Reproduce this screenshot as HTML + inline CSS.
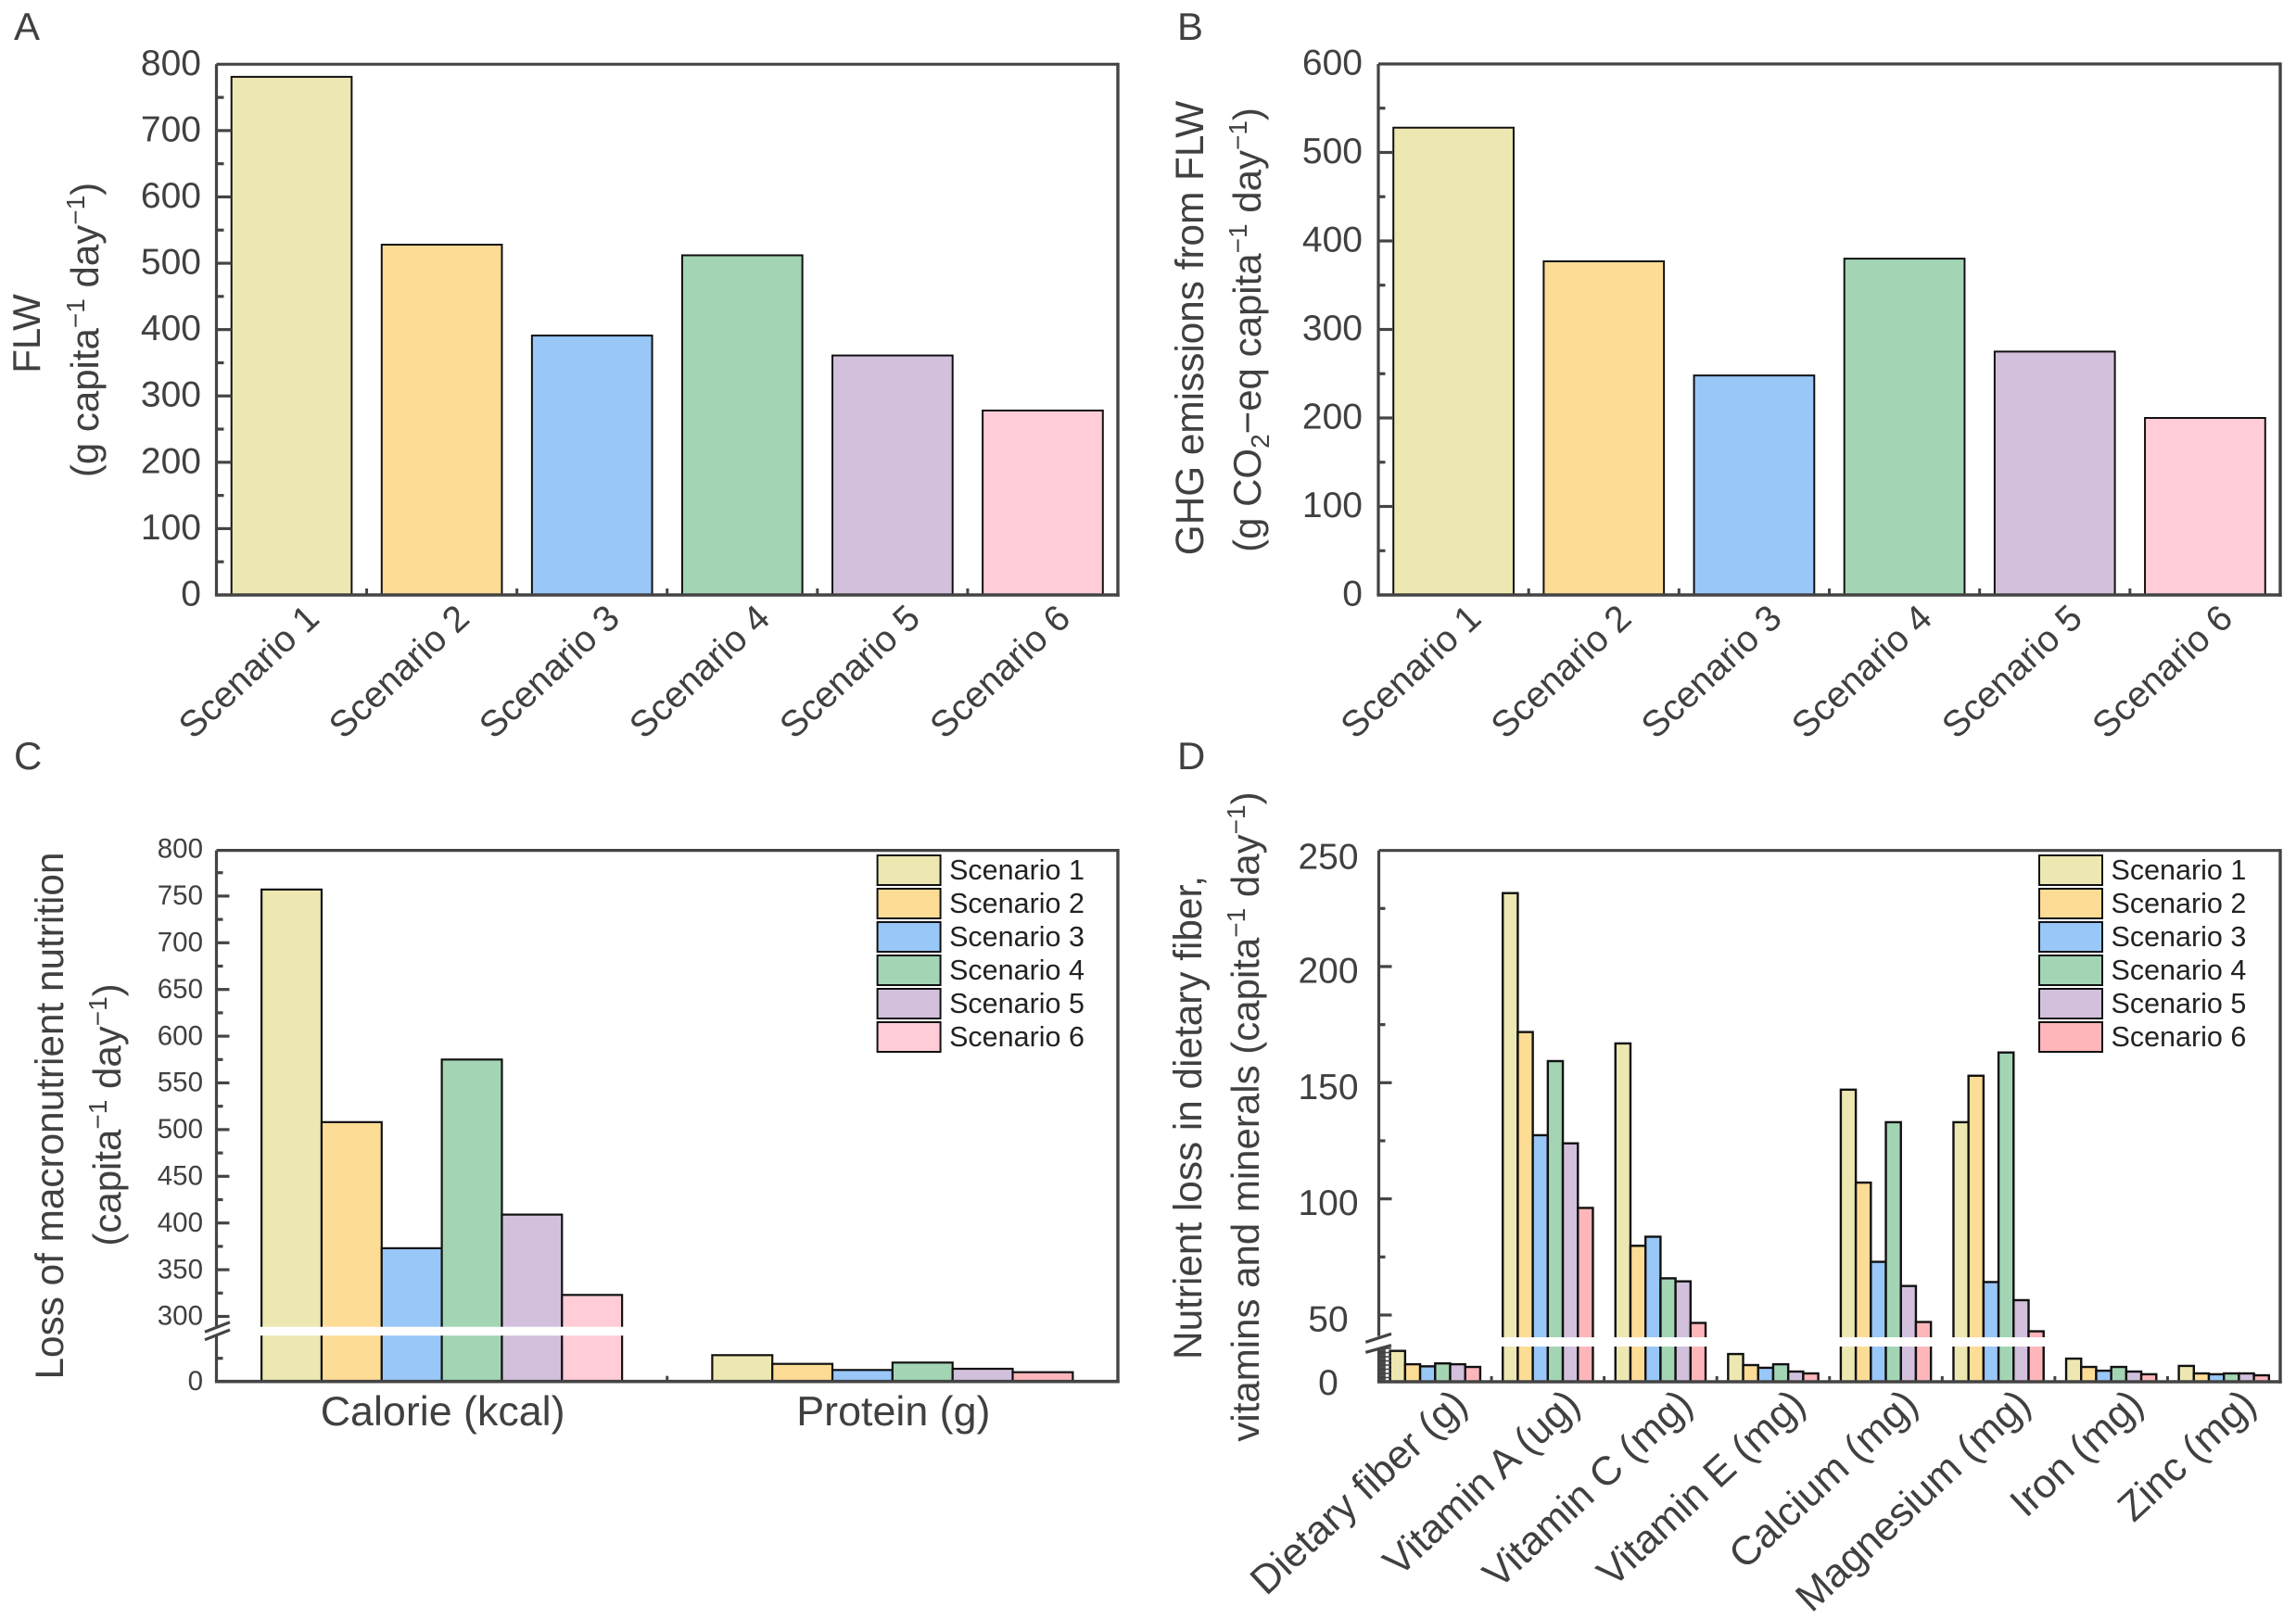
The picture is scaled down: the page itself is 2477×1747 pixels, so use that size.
<!DOCTYPE html>
<html lang="en">
<head>
<meta charset="utf-8">
<title>Food loss and waste scenarios</title>
<style>
html,body{margin:0;padding:0;background:#fff}
svg{display:block}
text{font-family:"Liberation Sans",Arial,sans-serif;fill:#404040}
</style>
</head>
<body>
<svg id="figure" xmlns="http://www.w3.org/2000/svg" width="2477" height="1747" viewBox="0 0 2477 1747">
  <rect x="0" y="0" width="2477" height="1747" fill="#fff"/>

  <text x="15" y="43" font-size="42">A</text>
  <text x="1270" y="43" font-size="42">B</text>
  <text x="15" y="830" font-size="42">C</text>
  <text x="1270" y="830" font-size="42">D</text>

  <g id="panel-a"></g>
  <g id="panel-b"></g>
  <g id="panel-c"></g>
  <g id="panel-d"></g>

  <text transform="translate(43 360) rotate(-90)" text-anchor="middle" font-size="42">FLW</text>
  <text transform="translate(106 356) rotate(-90)" text-anchor="middle" font-size="42">(g capita<tspan font-size="28" dy="-15">−1</tspan><tspan dy="15"> day</tspan><tspan font-size="28" dy="-15">−1</tspan><tspan dy="15">)</tspan></text>

  <text transform="translate(1298 354) rotate(-90)" text-anchor="middle" font-size="42.3">GHG emissions from FLW</text>
  <text transform="translate(1360 356) rotate(-90)" text-anchor="middle" font-size="42">(g CO<tspan font-size="28" dy="9">2</tspan><tspan dy="-9">−eq capita</tspan><tspan font-size="28" dy="-15">−1</tspan><tspan dy="15"> day</tspan><tspan font-size="28" dy="-15">−1</tspan><tspan dy="15">)</tspan></text>

  <text transform="translate(68 1204) rotate(-90)" text-anchor="middle" font-size="42.3">Loss of macronutrient nutrition</text>
  <text transform="translate(130 1203) rotate(-90)" text-anchor="middle" font-size="42">(capita<tspan font-size="28" dy="-15">−1</tspan><tspan dy="15"> day</tspan><tspan font-size="28" dy="-15">−1</tspan><tspan dy="15">)</tspan></text>

  <text transform="translate(1296 1206) rotate(-90)" text-anchor="middle" font-size="42.3">Nutrient loss in dietary fiber,</text>
  <text transform="translate(1358 1205) rotate(-90)" text-anchor="middle" font-size="42">vitamins and minerals (capita<tspan font-size="28" dy="-15">−1</tspan><tspan dy="15"> day</tspan><tspan font-size="28" dy="-15">−1</tspan><tspan dy="15">)</tspan></text>
</svg>

<script>
const scenarios = ['Scenario 1','Scenario 2','Scenario 3','Scenario 4','Scenario 5','Scenario 6'];
const flwValues = [781, 528, 391, 512, 361, 278];
const ghgValues = [528, 377, 248, 380, 275, 200];
const flwTicks = [0,100,200,300,400,500,600,700,800];
const ghgTicks = [0,100,200,300,400,500,600];

const macroCategories = ['Calorie (kcal)','Protein (g)'];
const calorieValues = [757, 508, 373, 575, 409, 323];
const proteinValues = [28.4, 19, 12.4, 20.4, 13.7, 10];
const macroUpperTicks = [300,350,400,450,500,550,600,650,700,750,800];
const macroLowerTicks = [0];

const nutrientCategories = ['Dietary fiber (g)','Vitamin A (ug)','Vitamin C (mg)','Vitamin E (mg)','Calcium (mg)','Magnesium (mg)','Iron (mg)','Zinc (mg)'];
const dietaryFiber = [14.8, 8.4, 7.4, 8.8, 8.4, 7.1];
const vitaminA = [231.6, 171.8, 127.4, 159.3, 123.9, 96.1];
const vitaminC = [166.9, 79.8, 83.7, 65.8, 64.5, 46.6];
const vitaminE = [13.3, 8, 6.7, 8.4, 4.9, 4];
const calcium = [147, 107, 72.9, 133, 62.5, 47];
const magnesium = [133, 153, 64.2, 163, 56.4, 43];
const iron = [11.1, 7.1, 5.3, 7.1, 4.9, 3.6];
const zinc = [7.6, 4, 3.6, 4, 4, 3.1];
const nutrientUpperTicks = [50,100,150,200,250];

const palette = ['#EDE7B1','#FDDC96','#98C7F8','#A3D5B5','#D2C0DD','#FFCCD8'];
const paletteSalmon = ['#EDE7B1','#FDDC96','#98C7F8','#A3D5B5','#D2C0DD','#FEB6BB'];

const NS = 'http://www.w3.org/2000/svg';
const AXIS = '#444444';
const INK = '#111111';

function mk(parent, tag, attrs, txt) {
  const el = document.createElementNS(NS, tag);
  for (const k in attrs) el.setAttribute(k, attrs[k]);
  if (txt !== undefined) el.textContent = txt;
  parent.appendChild(el);
  return el;
}

function line(parent, x1, y1, x2, y2, w, name) {
  const el = mk(parent, 'line', {x1, y1, x2, y2, stroke: AXIS, 'stroke-width': w});
  
  
  return el;
}

function bar(parent, x, w, yTop, yBase, fill, sw, name) {
  const el = mk(parent, 'rect', {x, y: yTop, width: w, height: Math.max(0, yBase - yTop), fill, stroke: INK, 'stroke-width': sw});
  
  
  return el;
}

function label(parent, x, y, str, size, anchor, name, rot) {
  const a = {x, y, 'font-size': size, 'text-anchor': anchor};
  if (rot) a.transform = 'rotate(' + rot + ' ' + x + ' ' + y + ')';
  const el = mk(parent, 'text', a, str);
  
  
  return el;
}

function slug(s) {
  return s.toLowerCase().replace(/[^a-z0-9]+/g, '-').replace(/-$/, '');
}

function frame(g, L, R, T, B) {
  line(g, L, T, R, T, 3.2, 'frame-top');
  line(g, R, T - 1.6, R, B + 1.8, 3.4, 'frame-right');
  line(g, L - 1.6, B, R + 1.7, B, 3.6, 'x-axis-line');
}

/* Simple single-series panels A and B */
function simplePanel(id, L, R, T, B, maxV, values, ticks, opt) {
  const g = document.getElementById(id);
  const yOf = v => B - v * (B - T) / maxV;
  const slot = (R - L) / values.length;
  const xOf = i => L + (i + 0.5) * slot;
  const bw = slot * 0.8;

  values.forEach((v, i) => {
    bar(g, xOf(i) - bw / 2, bw, yOf(v), B, palette[i], 2, 'bar-' + slug(scenarios[i]));
  });
  for (let i = 1; i < values.length; i++) {
    line(g, L + i * slot, B, L + i * slot, B - 7, 3, 'x-tick-minor');
  }
  frame(g, L, R, T, B);
  line(g, L, T, L, B, 3.2, 'y-axis-line');

  const step = ticks[1] - ticks[0];
  ticks.forEach((t, i) => {
    if (i > 0 && i < ticks.length - 1) line(g, L, yOf(t), L + opt.major, yOf(t), 3.2, 'y-tick-major');
    if (i < ticks.length - 1) line(g, L, yOf(t + step / 2), L + opt.minor, yOf(t + step / 2), 3.2, 'y-tick-minor');
    label(g, opt.labelX, yOf(t) + 11.5, String(t), 39, 'end', 'y-tick-label-' + t);
  });

  scenarios.forEach((s, i) => {
    label(g, xOf(i) + 32, B + 28, s, 39.5, 'end', 'x-tick-label-' + slug(s), -43);
  });
}

simplePanel('panel-a', 233.5, 1206, 69.3, 642, 800, flwValues, flwTicks, {major: 16, minor: 8, labelX: 217});
simplePanel('panel-b', 1487, 2460, 69, 642, 600, ghgValues, ghgTicks, {major: 15, minor: 7.5, labelX: 1470});

function legend(g, x, colors) {
  colors.forEach((c, i) => {
    const y = 923 + i * 36;
    const sw = mk(g, 'rect', {x, y, width: 68, height: 32, fill: c, stroke: INK, 'stroke-width': 2});
    
    
    const t = label(g, x + 77.5, y + 26, scenarios[i], 30.5, 'start', 'legend-label-' + (i + 1));
    t.style.fill = '#222';
  });
}

function axisBreak(g, x1, x2, lower, upper) {
  line(g, x1, lower[0], x2, lower[1], 3.2, 'axis-break-mark-lower');
  line(g, x1, upper[0], x2, upper[1], 3.2, 'axis-break-mark-upper');
}

/* Panel C: broken axis, two groups */
(function () {
  const g = document.getElementById('panel-c');
  const L = 233.5, R = 1206, T = 917.6, B = 1490.7;
  const LOWER_MAX = 50;
  const yOf = v => v <= LOWER_MAX ? B - v : 1420.5 - (v - 300) * 1.008;
  const slot = (R - L) / macroCategories.length;
  const xOf = i => L + (i + 0.5) * slot;
  const bw = slot * 0.8 / 6;
  const series = [calorieValues, proteinValues];

  series.forEach((vals, gi) => {
    const x0 = xOf(gi) - bw * 3;
    const colors = gi === 0 ? palette : paletteSalmon;
    vals.forEach((v, i) => {
      bar(g, x0 + i * bw, bw, yOf(v), B, colors[i], 2.2, 'bar-' + slug(macroCategories[gi]) + '-' + slug(scenarios[i]));
    });
    if (vals.some(v => v > LOWER_MAX)) {
      const strip = mk(g, 'rect', {x: x0 - 1.5, y: 1431.7, width: bw * 6 + 3, height: 9.5, fill: '#fff'});
      
      
    }
    label(g, xOf(gi) + 1, 1538, macroCategories[gi], 44.8, 'middle', 'x-tick-label-' + slug(macroCategories[gi]));
  });

  line(g, L + slot, B, L + slot, B - 6, 3, 'x-tick-minor');
  frame(g, L, R, T, B);
  line(g, L, T, L, 1431, 3.2, 'y-axis-line-upper');
  line(g, L, 1441, L, B, 3.2, 'y-axis-line-lower');
  axisBreak(g, 221, 248, [1445.7, 1435], [1437.3, 1426.7]);

  const step = macroUpperTicks[1] - macroUpperTicks[0];
  macroUpperTicks.forEach((t, i) => {
    if (i < macroUpperTicks.length - 1) {
      line(g, L, yOf(t), L + 14, yOf(t), 3.2, 'y-tick-major');
      line(g, L, yOf(t + step / 2), L + 7, yOf(t + step / 2), 3.2, 'y-tick-minor');
    }
    label(g, 219, yOf(t) + 9.2, String(t), 29.5, 'end', 'y-tick-label-' + t);
  });
  macroLowerTicks.forEach(t => {
    line(g, L, yOf(t + 25), L + 7, yOf(t + 25), 3.2, 'y-tick-minor');
    label(g, 219, yOf(t) + 9.2, String(t), 29.5, 'end', 'y-tick-label-' + t);
  });
  legend(g, 946.6, palette);
})();

/* Panel D: broken axis, eight groups */
(function () {
  const g = document.getElementById('panel-d');
  const L = 1487.5, R = 2460, T = 917.7, B = 1491;
  const LOWER_MAX = 16;
  const yOf = v => v <= LOWER_MAX ? B - v * 2.25 : 1419 - (v - 50) * 2.507;
  const series = [dietaryFiber, vitaminA, vitaminC, vitaminE, calcium, magnesium, iron, zinc];
  const slot = (R - L) / nutrientCategories.length;
  const xOf = i => L + (i + 0.5) * slot;
  const bw = slot * 0.8 / 6;

  series.forEach((vals, gi) => {
    const x0 = xOf(gi) - bw * 3;
    vals.forEach((v, i) => {
      bar(g, x0 + i * bw, bw, yOf(v), B, paletteSalmon[i], 2.4, 'bar-' + slug(nutrientCategories[gi]) + '-' + slug(scenarios[i]));
    });
    if (vals.some(v => v > LOWER_MAX)) {
      const strip = mk(g, 'rect', {x: x0 - 2, y: 1443, width: bw * 6 + 4, height: 10, fill: '#fff'});
      
      
    }
    label(g, xOf(gi) + 37, B + 27.5, nutrientCategories[gi], 43.5, 'end', 'x-tick-label-' + slug(nutrientCategories[gi]), -43);
    if (gi > 0) line(g, L + gi * slot, B, L + gi * slot, B - 6, 3, 'x-tick-minor');
  });

  frame(g, L, R, T, B);
  line(g, L, T, L, 1441.7, 3.2, 'y-axis-line-upper');
  line(g, L, 1455, L, B, 3.2, 'y-axis-line-lower');
  axisBreak(g, 1473.3, 1501, [1459.3, 1451.7], [1448.3, 1439.3]);

  const step = nutrientUpperTicks[1] - nutrientUpperTicks[0];
  nutrientUpperTicks.forEach((t, i) => {
    if (i < nutrientUpperTicks.length - 1) {
      line(g, L, yOf(t), L + 14, yOf(t), 3.2, 'y-tick-major');
      line(g, L, yOf(t + step / 2), L + 7, yOf(t + step / 2), 3.2, 'y-tick-minor');
    }
    label(g, 1433, yOf(t) + (t === 250 ? 20 : 17.5), String(t), 39, 'middle', 'y-tick-label-' + t);
  });
  for (let v = 0; v <= LOWER_MAX; v += 0.5) {
    const isMajor = v % 2 === 0;
    line(g, L, yOf(v), L + (isMajor ? 13.5 : 7.3), yOf(v), isMajor ? 1.6 : 1.3, isMajor ? 'y-tick-major' : 'y-tick-minor');
  }
  label(g, 1433, yOf(0) + 14, '0', 39, 'middle', 'y-tick-label-0');
  legend(g, 2200, paletteSalmon);
})();
</script>
</body>
</html>
